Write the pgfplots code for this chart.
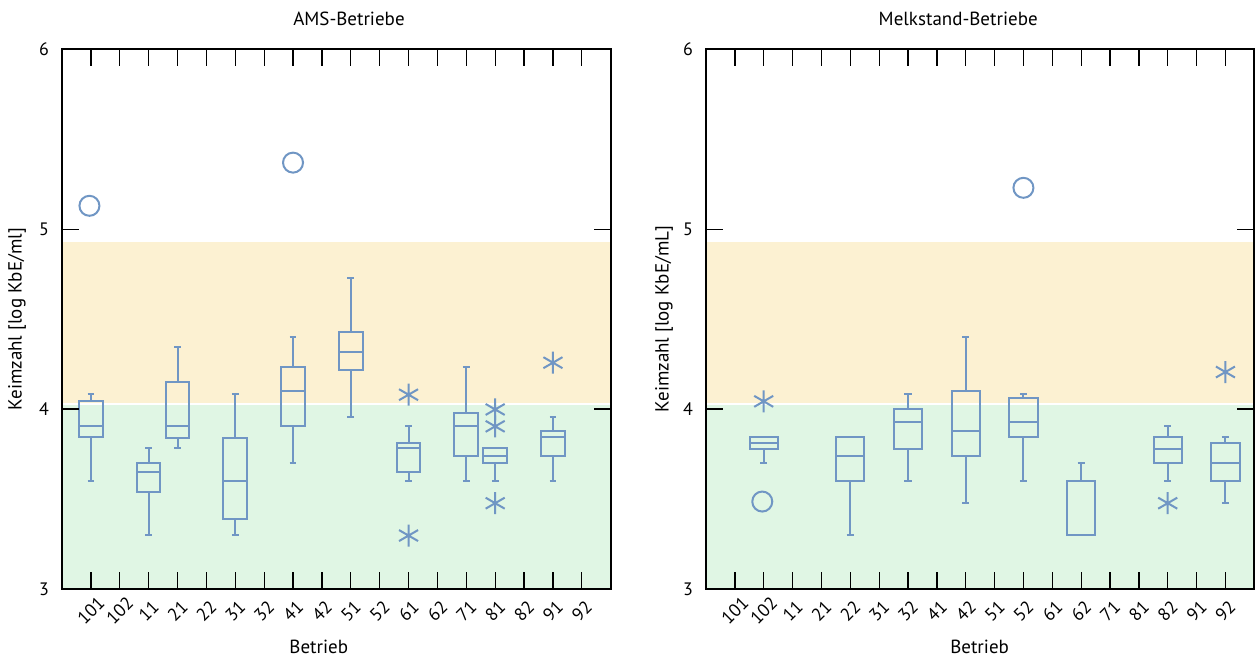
\documentclass[border=0pt]{standalone}
\usepackage{fontspec}
\setmainfont{PT Sans}
\usepackage{pgfplots}
\pgfplotsset{compat=1.18}
\usepgfplotslibrary{statistics}
\definecolor{boxc}{RGB}{112,150,196}
\definecolor{bandG}{RGB}{224,246,228}
\definecolor{bandO}{RGB}{252,241,210}

\newcommand{\bxL}[6]{\addplot[boxc, line width=1pt, solid, boxplot prepared={draw position=#1, lower whisker=#2, lower quartile=#3, median=#4, upper quartile=#5, upper whisker=#6, box extend=0.82, whisker extend=0.23}] coordinates {};}
\newcommand{\bxR}[6]{\addplot[boxc, line width=1pt, solid, boxplot prepared={draw position=#1, lower whisker=#2, lower quartile=#3, median=#4, upper quartile=#5, upper whisker=#6, box extend=0.98, whisker extend=0.25}] coordinates {};}

\pgfplotsset{
 kz/.style={
  scale only axis, height=269.85pt, anchor=south west,
  xmin=-1, xmax=18, ymin=3, ymax=6,
  xtick={0,...,17},
  xticklabels={101,102,11,21,22,31,32,41,42,51,52,61,62,71,81,82,91,92},
  ytick={3,4,5,6},
  tick align=inside, major tick length=8.5pt,
  tick style={black, line width=0.65pt},
  axis line style={black, line width=0.9pt},
  axis on top,
  /pgf/number format/assume math mode=true,
  ticklabel style={font=\fontsize{9}{10}\selectfont},
  xticklabel style={yshift=-11pt, rotate=45, anchor=center},
  yticklabel style={xshift=-3pt},
  label style={font=\fontsize{9.5}{11}\selectfont},
  title style={font=\fontsize{9.5}{11}\selectfont},
  boxplot/draw direction=y,
 },
 gband/.style={draw=none, fill=bandG},
 oband/.style={draw=none, fill=bandO},
}

\begin{document}
\begin{tikzpicture}
\useasboundingbox (0,0) rectangle (627.5pt,328.5pt);

% ---------- left: AMS-Betriebe ----------
\begin{axis}[kz, at={(31pt,34pt)}, width=274.35pt,
  title={AMS-Betriebe},
  title style={at={(rel axis cs:0.523,1.0348)}, anchor=center},
  xlabel={Betrieb},
  xlabel style={at={(rel axis cs:0.468,-0.1075)}, anchor=center},
  ylabel={Keimzahl [log KbE/ml]},
  ylabel style={at={(rel axis cs:-0.082,0.5)}, anchor=center},
]
\addplot[gband] coordinates {(-1,3) (18,3) (18,4.022) (-1,4.022) (-1,3)};
\addplot[oband] coordinates {(-1,4.034) (18,4.034) (18,4.928) (-1,4.928) (-1,4.034)};
\bxL{0}{3.603}{3.844}{3.905}{4.045}{4.085}
\bxL{2}{3.30}{3.538}{3.651}{3.699}{3.781}
\bxL{3}{3.781}{3.840}{3.905}{4.152}{4.347}
\bxL{5}{3.30}{3.388}{3.603}{3.842}{4.085}
\bxL{7}{3.699}{3.904}{4.098}{4.234}{4.403}
\bxL{9}{3.957}{4.217}{4.315}{4.430}{4.730}
\bxL{11}{3.603}{3.649}{3.781}{3.814}{3.904}
\bxL{13}{3.603}{3.738}{3.905}{3.980}{4.234}
\bxL{14}{3.603}{3.700}{3.738}{3.781}{3.781}
\bxL{16}{3.603}{3.738}{3.846}{3.878}{3.955}
\addplot[only marks, mark=o, mark size=5pt, boxc, mark options={line width=1pt}] coordinates {(-0.05,5.13) (7,5.37)};
\addplot[only marks, mark=asterisk, mark size=5.5pt, boxc, mark options={line width=1pt}] coordinates {(11,4.080) (11,3.297) (14,3.998) (14,3.904) (14,3.477) (16,4.258)};
\end{axis}

% ---------- right: Melkstand-Betriebe ----------
\begin{axis}[kz, at={(353pt,34pt)}, width=274.15pt,
  title={Melkstand-Betriebe},
  title style={at={(rel axis cs:0.460,1.0348)}, anchor=center},
  xlabel={Betrieb},
  xlabel style={at={(rel axis cs:0.499,-0.1075)}, anchor=center},
  ylabel={Keimzahl [log KbE/mL]},
  ylabel style={at={(rel axis cs:-0.0766,0.5)}, anchor=center},
]
\addplot[gband] coordinates {(-1,3) (18,3) (18,4.022) (-1,4.022) (-1,3)};
\addplot[oband] coordinates {(-1,4.034) (18,4.034) (18,4.928) (-1,4.928) (-1,4.034)};
\bxR{1}{3.700}{3.779}{3.813}{3.846}{3.846}
\bxR{4}{3.300}{3.601}{3.738}{3.846}{3.846}
\bxR{6}{3.601}{3.779}{3.931}{4.000}{4.083}
\bxR{8}{3.477}{3.738}{3.878}{4.098}{4.403}
\bxR{10}{3.601}{3.844}{3.931}{4.061}{4.083}
\bxR{12}{3.300}{3.300}{3.300}{3.601}{3.700}
\bxR{15}{3.601}{3.700}{3.779}{3.846}{3.904}
\bxR{17}{3.477}{3.601}{3.700}{3.813}{3.846}
\addplot[only marks, mark=o, mark size=5pt, boxc, mark options={line width=1pt}] coordinates {(0.95,3.486) (10,5.23)};
\addplot[only marks, mark=asterisk, mark size=5.5pt, boxc, mark options={line width=1pt}] coordinates {(1,4.043) (15,3.477) (17,4.206)};
\end{axis}
\end{tikzpicture}
\end{document}
